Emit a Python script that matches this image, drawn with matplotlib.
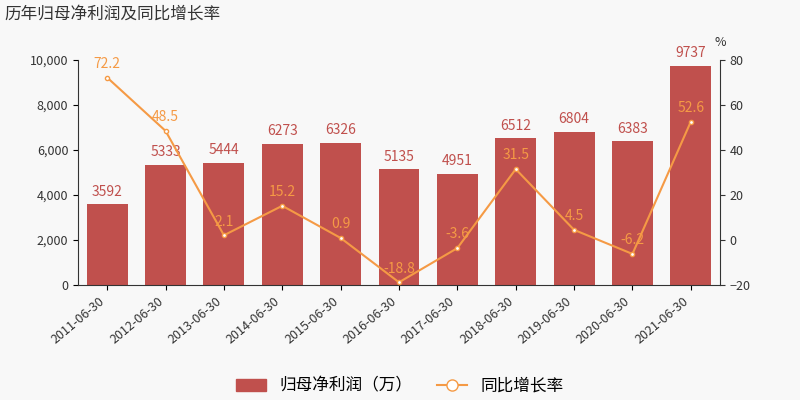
import matplotlib
matplotlib.use("Agg")
import matplotlib.pyplot as plt
from matplotlib.lines import Line2D
from matplotlib.patches import Patch

plt.rcParams['font.family'] = ['Noto Sans CJK SC', 'DejaVu Sans']

dates = ["2011-06-30","2012-06-30","2013-06-30","2014-06-30","2015-06-30","2016-06-30",
         "2017-06-30","2018-06-30","2019-06-30","2020-06-30","2021-06-30"]
profit = [3592, 5333, 5444, 6273, 6326, 5135, 4951, 6512, 6804, 6383, 9737]
growth = [72.2, 48.5, 2.1, 15.2, 0.9, -18.8, -3.6, 31.5, 4.5, -6.2, 52.6]

bar_c = "#c0504d"
line_c = "#f59a45"

fig = plt.figure(figsize=(8, 4), dpi=100, facecolor="#f8f8f8")
ax = fig.add_axes([0.0975, 0.2875, 0.8025, 0.5625])
ax.set_facecolor("#f8f8f8")
x = list(range(len(dates)))
ax.bar(x, profit, width=0.7, color=bar_c)
for i, v in enumerate(profit):
    ax.text(i, v + 250, str(v), ha="center", va="bottom", color=bar_c, fontsize=10)
ax.set_ylim(0, 10000)
ax.set_xlim(-0.5, len(dates) - 0.5)
ax.set_yticks(range(0, 10001, 2000))
ax.set_yticklabels([f"{v:,}" for v in range(0, 10001, 2000)], fontsize=9, color="#333")
ax.set_xticks(x)
ax.set_xticklabels(dates, rotation=40, ha="right", fontsize=9, color="#333")
for s in ["top", "right"]:
    ax.spines[s].set_visible(False)
ax.spines["left"].set_color("#333")
ax.spines["bottom"].set_color("#333")

ax2 = ax.twinx()
ax2.plot(x, growth, color=line_c, lw=1.5, marker="o", ms=3, mfc="white", mec=line_c)
for i, v in enumerate(growth):
    ax2.text(i, v + 3, str(v), ha="center", va="bottom", color=line_c, fontsize=10)
ax2.set_ylim(-20, 80)
ax2.set_yticks(range(-20, 81, 20))
ax2.tick_params(labelsize=9, colors="#333")
for s in ["top", "left", "bottom"]:
    ax2.spines[s].set_visible(False)
ax2.spines["right"].set_color("#333")
ax2.text(1.0, 1.06, "%", transform=ax2.transAxes, fontsize=9, ha="center", color="#333")

fig.text(0.005, 0.965, "历年归母净利润及同比增长率", fontsize=12, color="#333", va="center")

handles = [Patch(color=bar_c), Line2D([0], [0], color=line_c, marker="o", mfc="white", mec=line_c, ms=8)]
fig.legend(handles, ["归母净利润（万）", "同比增长率"], loc="center", bbox_to_anchor=(0.5, 0.035),
           ncol=2, frameon=False, fontsize=12, handlelength=1.8, columnspacing=1.5)

fig.savefig("out.png", dpi=100, facecolor=fig.get_facecolor())
